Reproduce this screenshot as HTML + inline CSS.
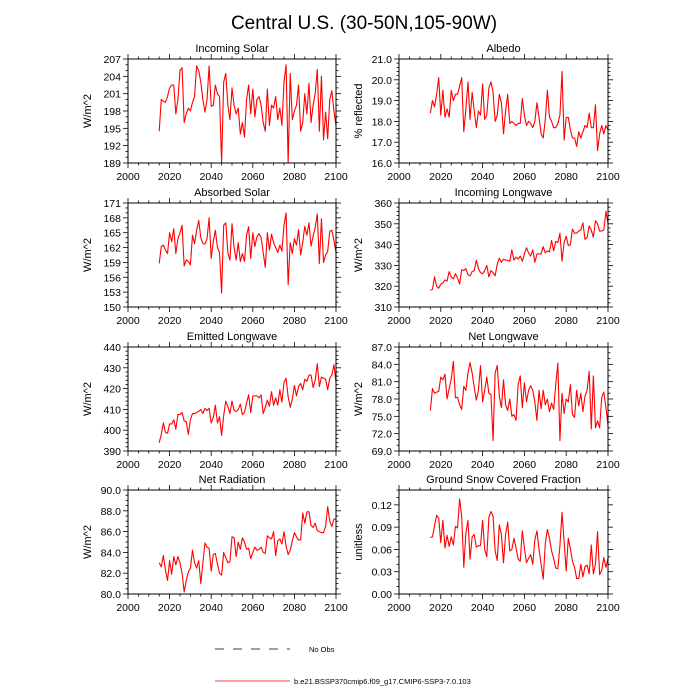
<!DOCTYPE html>
<html><head><meta charset="utf-8">
<style>html,body{margin:0;padding:0;background:#fff}svg{display:block;font-family:"Liberation Sans",sans-serif}</style>
</head><body>
<svg id="chart" width="700" height="700" viewBox="0 0 700 700">
<text x="364" y="29" text-anchor="middle" font-size="19">Central U.S. (30-50N,105-90W)</text>
<g>
<line x1="215" y1="649" x2="290" y2="649" stroke="#000" stroke-width="0.8" stroke-dasharray="9,9"/>
<text x="309" y="652" font-size="7.5">No Obs</text>
<line x1="215" y1="681" x2="290" y2="681" stroke="#f00" stroke-width="0.8"/>
<text x="294" y="684" font-size="7.5">b.e21.BSSP370cmip6.f09_g17.CMIP6-SSP3-7.0.103</text>
</g>
</svg>
<script>
const years=[];for(let y=2015;y<=2100;y++)years.push(y);
const xTicks=[2000,2020,2040,2060,2080,2100];
const incomingSolar=[194.5,200,199.7,199.5,200.5,202,202.5,202.5,197.5,200,205,205.5,196,197.5,198.5,198,199.5,200.5,205.8,205,203,200,197.8,200,205.8,198.8,199,202.5,201,200.5,189,203,204.5,199,196.5,202,199,197.5,198.5,194,196,193.5,200,202.5,197.5,201.8,197,200,200.5,199,196,194.5,201.8,195.5,199,198.5,200.5,196.5,198.5,195.5,203,206,189,204.5,196.5,198,199,202.5,194.5,196,201,197.5,202.8,196,199,201,205.2,194.5,204,193,197.8,193.2,200,201.5,198,195.5];
const albedo=[18.4,19.0,18.7,19.3,20.1,18.3,19.5,18.2,18.6,18.2,19.5,19.0,19.3,19.3,19.7,20.1,17.5,18.6,19.9,18.1,19.4,18.5,17.7,18.5,18.3,19.8,18.1,18.3,19.6,19.9,19.4,18.0,18.3,19.3,18.9,17.4,18.5,19.3,17.9,18.0,17.9,17.8,17.9,17.9,19.1,18.3,17.8,18.0,17.9,17.7,18.0,18.9,18.2,17.4,17.2,18.1,19.5,18.2,18.0,17.7,17.7,17.9,18.3,20.4,17.1,18.2,18.2,17.6,17.2,17.2,16.8,17.5,17.2,17.5,17.8,17.7,18.4,17.7,17.7,18.8,16.6,17.4,17.8,17.4,17.8,17.6];
const absorbedSolar=[158.8,162.2,162.5,161.5,160.8,165,163.2,165.8,160.8,163.8,165,166.5,158.3,159.5,159.2,158.5,164.5,162.8,165.5,167.5,164,162.8,162.7,163.8,168,159.8,163.2,165.5,162,161,152.8,166.5,167,161,159.5,166.8,162,159.5,163,159.2,160.8,159.2,164.5,166.2,159.8,165,162.2,164.2,164.8,164,161,158,165,161.5,164.7,163,162,161,162.5,161.3,166.5,169,154.5,163,160.8,163.8,162.5,165.6,160.5,163,166.3,164.5,167,162.3,164.3,166,168.8,158.8,167.8,159,160.5,161.2,165.3,165.5,163.5,161];
const incomingLW=[318,318.5,324.5,320,319,321,321.5,323,322.5,327,324.5,323.5,326,324,321,328,327.5,328.5,325.5,325,327,327.5,332.5,328.5,326.5,326,327.5,330,324.5,327.5,326.5,325,330.5,333.5,331.5,333,332.5,332.5,332,337.5,332.5,334,333,334.5,332,335.5,338.5,336,334.5,337.5,331.5,335.5,335.5,335.5,339,336,337,336.5,342,337,341.5,341,345.5,332,341,344,339.5,340,347.5,345.5,345.5,346.5,347,350.5,342.5,343.5,349,347,343.5,351.5,350,346.5,346.5,347,356,350];
const emittedLW=[394,398,403.5,399,398.5,403,403,405,400.5,407.5,407.5,408.5,404.5,404,398,405,408,408,408.5,409,410,408,410.5,409.5,410.5,403.5,406,412,403.5,406.5,397.5,407,414,411.5,408,414,409.5,409,410,412.5,407.5,408.5,413,417,408.5,416.5,416.5,416.5,415.5,417,408,411,414.5,411.5,418.5,412,415.5,412,419.5,413.5,423,425,416,411,415,421.5,416.5,421,422.5,419.5,424.5,423.5,426.5,426.5,420.5,424,432,421,425.5,425,424.5,419.5,425,426.5,431.5,423];
const netLW=[76,79.8,79,79.2,79.3,81.8,81.3,82.3,78,79.8,81.5,84.5,78.2,78.3,77,76.2,80.2,79.5,82.5,84.3,82.5,80,77.8,79.5,83.8,77.5,79.5,81.8,79,78.8,70.8,82.5,83.8,78.5,76.5,81.3,77,76,78,75,75.3,74.3,80.5,82,76.5,80.8,77.5,79.5,80.3,79.5,77.5,74.3,79.5,76.3,79.5,77,78,75.8,77.3,76.2,80.5,84.2,70.8,79,75.5,78,77.5,80.5,75.3,74.8,79.5,76.8,79,75.8,78.5,79.5,82.8,72.8,82,73,74.2,73,78.3,79.2,76.5,73.5];
const netRad=[83,82.6,83.7,82.3,81.3,83.2,81.9,83.6,82.8,83.6,83,82,80.2,81.3,82.1,82.5,84.2,83,82.5,83.2,81,83,84.9,84.5,84.4,82.2,83.8,83.9,82.9,82,81.8,84,83.5,83,83.1,85.5,85.4,83.6,85,84.3,85.4,85,84.3,84.4,83.4,84,84.5,84.2,84.3,84.5,84,83.9,85.6,85.4,85.3,86,83.7,85.1,85.3,84.8,86,84.6,83.8,84.2,85.1,85.9,85.5,85.2,85.2,87.8,86.8,87.9,87.9,86.6,86.4,86.8,86.1,86,85.9,85.9,86.5,88.4,87,86.5,87.2,87.2];
const snowFrac=[.076,.077,.092,.106,.102,.069,.099,.062,.079,.064,.077,.066,.091,.089,.128,.104,.036,.082,.099,.047,.077,.080,.063,.065,.065,.099,.060,.050,.103,.111,.105,.058,.045,.093,.080,.042,.080,.097,.058,.060,.075,.062,.047,.044,.085,.062,.042,.048,.053,.040,.073,.085,.060,.040,.020,.068,.087,.075,.058,.048,.035,.034,.065,.110,.071,.031,.075,.061,.044,.036,.021,.021,.040,.023,.037,.039,.027,.066,.027,.040,.084,.026,.032,.049,.036,.048];
const solarTicks=["189","192","195","198","201","204","207"];
const albedoTicks=["16.0","17.0","18.0","19.0","20.0","21.0"];
const absTicks=["150","153","156","159","162","165","168","171"];
const ilwTicks=["310","320","330","340","350","360"];
const elwTicks=["390","400","410","420","430","440"];
const nlwTicks=["69.0","72.0","75.0","78.0","81.0","84.0","87.0"];
const nrTicks=["80.0","82.0","84.0","86.0","88.0","90.0"];
const snowTicks=["0.00","0.03","0.06","0.09","0.12"];

const NS="http://www.w3.org/2000/svg";
const svg=document.getElementById('chart');
function mk(tag,attrs,parent){const e=document.createElementNS(NS,tag);for(const k in attrs)e.setAttribute(k,attrs[k]);parent.appendChild(e);return e;}
const colL=[128,336],colR=[399,608];
const rows=[[59,163],[203,307],[347,451],[490,594]];
const panels=[
 {t:"Incoming Solar",u:"W/m^2",d:incomingSolar,tk:solarTicks,min:189,max:207,minor:3,col:colL,row:0,n:"incoming-solar"},
 {t:"Albedo",u:"% reflected",d:albedo,tk:albedoTicks,min:16,max:21,minor:5,col:colR,row:0,n:"albedo"},
 {t:"Absorbed Solar",u:"W/m^2",d:absorbedSolar,tk:absTicks,min:150,max:171,minor:3,col:colL,row:1,n:"absorbed-solar"},
 {t:"Incoming Longwave",u:"W/m^2",d:incomingLW,tk:ilwTicks,min:310,max:360,minor:5,col:colR,row:1,n:"incoming-longwave"},
 {t:"Emitted Longwave",u:"W/m^2",d:emittedLW,tk:elwTicks,min:390,max:440,minor:5,col:colL,row:2,n:"emitted-longwave"},
 {t:"Net Longwave",u:"W/m^2",d:netLW,tk:nlwTicks,min:69,max:87,minor:3,col:colR,row:2,n:"net-longwave"},
 {t:"Net Radiation",u:"W/m^2",d:netRad,tk:nrTicks,min:80,max:90,minor:4,col:colL,row:3,n:"net-radiation"},
 {t:"Ground Snow Covered Fraction",u:"unitless",d:snowFrac,tk:snowTicks,min:0,max:0.14,minor:3,col:colR,row:3,n:"snow-fraction"}
];
panels.forEach(p=>{
 const [x0,x1]=p.col,[y0,y1]=rows[p.row];
 const g=mk('g',{},svg);
 
 
 const xs=v=>x0+(v-2000)/100*(x1-x0);
 const ys=v=>y1-(v-p.min)/(p.max-p.min)*(y1-y0);
 const t=mk('text',{x:(x0+x1)/2,y:y0-7,'text-anchor':'middle','font-size':'11'},g);t.textContent=p.t;
 
 
 const yl=mk('text',{x:0,y:0,'text-anchor':'middle','font-size':'11',transform:`translate(${x0-37},${(y0+y1)/2}) rotate(-90)`},g);yl.textContent=p.u;
 
 
 for(let v=2000;v<=2100;v+=5){const X=xs(v);const L=(v%20===0)?5:2.5;
  mk('line',{x1:X,y1:y1,x2:X,y2:y1+L,stroke:'#000','stroke-width':'0.8'},g);
  mk('line',{x1:X,y1:y0,x2:X,y2:y0-L,stroke:'#000','stroke-width':'0.8'},g);}
 xTicks.forEach(v=>{const tx=mk('text',{x:xs(v),y:y1+17,'text-anchor':'middle','font-size':'10.5'},g);tx.textContent=v;
  
  });
 const step=(+p.tk[1])-(+p.tk[0]);
 for(let v=p.min,i=0;v<=p.max+1e-9;i++,v=p.min+i*step/p.minor){const Y=ys(v);const L=(i%p.minor===0)?5:2.5;
  mk('line',{x1:x0,y1:Y,x2:x0-L,y2:Y,stroke:'#000','stroke-width':'0.8'},g);
  mk('line',{x1:x1,y1:Y,x2:x1+L,y2:Y,stroke:'#000','stroke-width':'0.8'},g);}
 p.tk.forEach(s=>{const ty=mk('text',{x:x0-7,y:ys(+s)+4,'text-anchor':'end','font-size':'10.5'},g);ty.textContent=s;
  
  });
 const pts=p.d.map((v,i)=>xs(years[i]).toFixed(2)+','+ys(v).toFixed(2)).join(' ');
 const pl=mk('polyline',{points:pts,fill:'none',stroke:'#f00','stroke-width':'1.1','stroke-linejoin':'round'},g);
 
 
 const fr=mk('rect',{x:x0,y:y0,width:x1-x0,height:y1-y0,fill:'none',stroke:'#000','stroke-width':'1'},g);
 
 
});
</script>
</body></html>
